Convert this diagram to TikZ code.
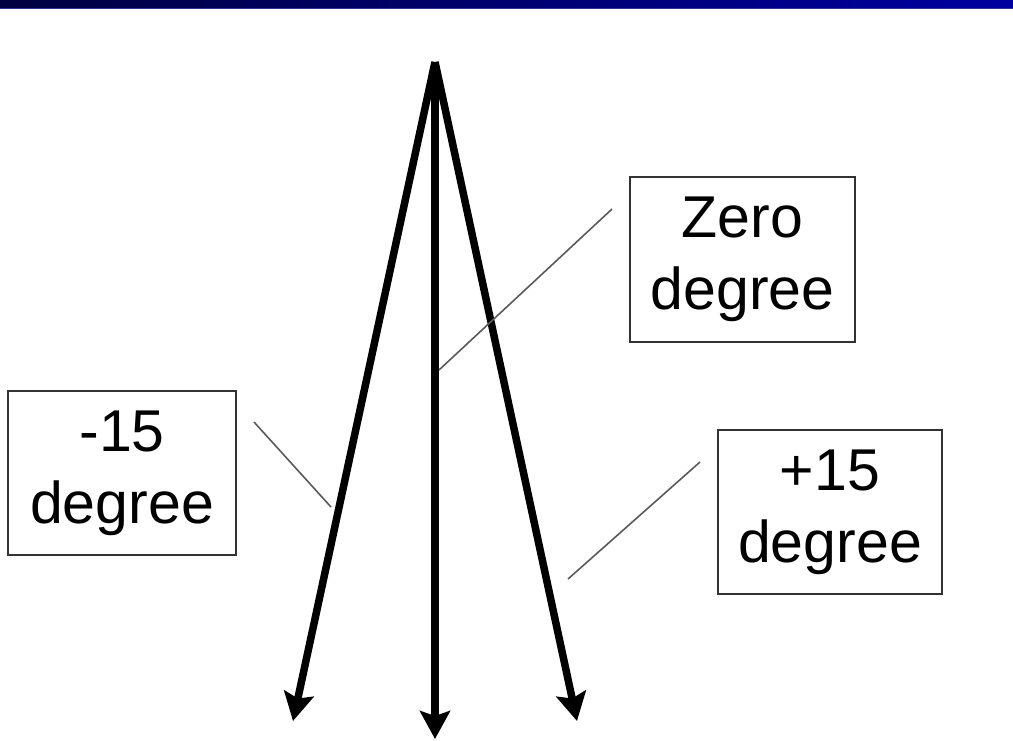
\documentclass[tikz,border=0pt]{standalone}
\usepackage{fontspec}
\setmainfont{Liberation Sans}
\usetikzlibrary{arrows.meta}
\definecolor{barleft}{RGB}{0,0,64}
\definecolor{barright}{RGB}{0,0,160}
\definecolor{leader}{RGB}{90,90,90}
\definecolor{boxline}{RGB}{50,50,50}
\tikzset{
  lbl/.style={draw=boxline, line width=1.6pt, fill=white, align=center,
    font=\fontsize{59}{72}\selectfont, inner sep=0pt},
  ray/.style={line width=7.5pt, -{Stealth[length=28pt,width=30pt,inset=5pt]}},
  leaderline/.style={draw=leader, line width=1.6pt}
}
\begin{document}
\begin{tikzpicture}[x=1pt,y=-1pt]
\useasboundingbox (0,0) rectangle (1013,740);
\fill[white] (0,0) rectangle (1013,740);
\shade[left color=barleft, right color=barright] (0,0) rectangle (1013,7.5);
\draw[color=barright!60!gray, line width=1pt] (0,8.5) -- (1013,8.5);

\coordinate (apex) at (435,62);
\coordinate (tipL) at (293,721);
\coordinate (tipC) at (435,739);
\coordinate (tipR) at (577,721);

\draw[ray] (apex) -- (tipL);
\draw[ray] (apex) -- (tipC);
\draw[ray] (apex) -- (tipR);

\node[lbl, minimum width=225pt, minimum height=165pt] (zero) at (742.5,259.5) {Zero\\degree};
\node[lbl, minimum width=228pt, minimum height=164pt] (minus) at (122,473) {-15\\degree};
\node[lbl, minimum width=224pt, minimum height=164pt] (plus) at (830,512) {+15\\degree};

\coordinate (zA) at (612,209);
\coordinate (zB) at (439,370);
\coordinate (mA) at (254,422);
\coordinate (mB) at (331,507);
\coordinate (pA) at (700,462);
\coordinate (pB) at (568,579);
\draw[leaderline] (zA) -- (zB);
\draw[leaderline] (mA) -- (mB);
\draw[leaderline] (pA) -- (pB);
\end{tikzpicture}
\end{document}
